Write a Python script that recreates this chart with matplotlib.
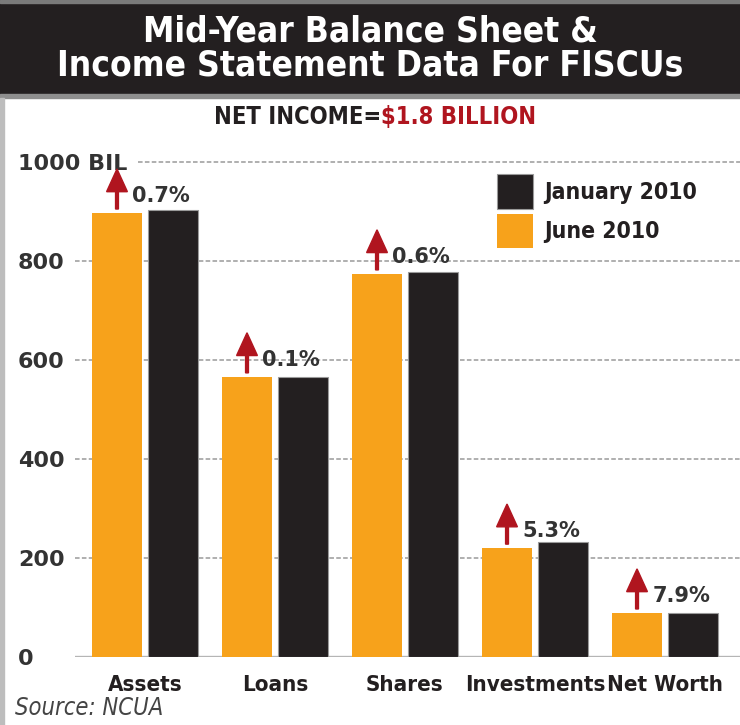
import matplotlib.pyplot as plt
import numpy as np
from matplotlib.patches import Rectangle

categories = ['Assets', 'Loans', 'Shares', 'Investments', 'Net Worth']
june_2010 = [897, 566, 774, 220, 89]
jan_2010 = [903, 566, 778, 232, 89]
pct_change = ['0.7%', '0.1%', '0.6%', '5.3%', '7.9%']
yticks = [0, 200, 400, 600, 800, 1000]
ytick_labels = ['0', '200', '400', '600', '800', '1000 BIL']

ORANGE = '#f7a21b'
BLACK = '#231f20'
RED = '#b0151f'
TEXT = '#231f20'
NARROW = dict(family='DejaVu Sans', stretch='condensed', weight='bold')

W, H = 740, 725
fig = plt.figure(figsize=(W / 100, H / 100), dpi=100)
fig.patch.set_facecolor('white')

# header band + frame
fig.patches.append(Rectangle((0, 1 - 95 / H), 1, 95 / H, transform=fig.transFigure,
                             color=BLACK, zorder=0))
fig.patches.append(Rectangle((0, 1 - 98 / H), 1, 4 / H, transform=fig.transFigure,
                             color='#8e8e8e', zorder=0))
fig.patches.append(Rectangle((0, 1 - 3 / H), 1, 3 / H, transform=fig.transFigure,
                             color='#7a7a7a', zorder=0))
fig.patches.append(Rectangle((0, 0), 4 / W, 1 - 98 / H, transform=fig.transFigure,
                             color='#bdbdbd', zorder=0))

fig.text(0.5, 1 - 31 / H, 'Mid-Year Balance Sheet &', color='white', fontsize=25.3,
         ha='center', va='center', **NARROW)
fig.text(0.5, 1 - 66 / H, 'Income Statement Data For FISCUs', color='white', fontsize=25.3,
         ha='center', va='center', **NARROW)
fig.text(381 / W, 1 - 117 / H, 'NET INCOME=', color=TEXT, fontsize=17,
         ha='right', va='center', **NARROW)
fig.text(381 / W, 1 - 117 / H, '$1.8 BILLION', color=RED, fontsize=17,
         ha='left', va='center', **NARROW)

ax = fig.add_axes([75 / W, 68 / H, 665 / W, 495 / H])
x = np.arange(len(categories))
bw = 0.39
ax.bar(x - 0.215, june_2010, bw, color=ORANGE, zorder=3, label='June 2010')
ax.bar(x + 0.215, jan_2010, bw, color=BLACK, edgecolor='#9a9a9a', linewidth=0.8,
       zorder=3, label='January 2010')

ax.set_xlim(-0.538, 4.577)
ax.set_ylim(0, 1000)

for v in yticks[1:-1]:
    ax.axhline(v, color='#9a9a9a', lw=1.1, ls=(0, (3, 1.5)), zorder=1)
ax.axhline(1000, xmin=0.095, color='#9a9a9a', lw=1.1, ls=(0, (3, 1.5)), zorder=1, clip_on=False)
ax.axhline(0, color='#b5b5b5', lw=2.4, zorder=2)

# change arrows and labels
for xi, v, p in zip(x - 0.215, june_2010, pct_change):
    ax.arrow(xi, v + 8, 0, 81, width=0.022, head_width=0.16, head_length=46,
             length_includes_head=True, color=RED, zorder=4, clip_on=False)
    ax.annotate(p, (xi, v), xytext=(11, 12), textcoords='offset points',
                fontsize=15, fontweight='bold', color='#333333', ha='left', va='center',
                family='DejaVu Sans', zorder=5, annotation_clip=False)

for s in ax.spines.values():
    s.set_visible(False)
ax.set_xticks(x, categories)
ax.set_yticks(yticks, ytick_labels)
ax.tick_params(length=0)
ax.tick_params(axis='x', pad=13)
ax.tick_params(axis='y', pad=41)
for lab in ax.get_xticklabels():
    lab.set_fontsize(16)
    lab.set_fontweight('bold')
    lab.set_family('DejaVu Sans')
    lab.set_stretch('condensed')
    lab.set_color(TEXT)
for lab in ax.get_yticklabels():
    lab.set_fontsize(16)
    lab.set_fontweight('bold')
    lab.set_family('DejaVu Sans')
    lab.set_color('#333333')
    lab.set_ha('left')

handles, labels = ax.get_legend_handles_labels()
leg = ax.legend(handles[::-1], labels[::-1], loc='upper left',
                bbox_to_anchor=(497 / W, 1 - 174 / H), bbox_transform=fig.transFigure,
                frameon=False, fontsize=16.5, handlelength=1.55, handleheight=1.95,
                handletextpad=0.5, labelspacing=0.22, borderpad=0, borderaxespad=0)
for t in leg.get_texts():
    t.set_fontweight('bold')
    t.set_family('DejaVu Sans')
    t.set_stretch('condensed')
    t.set_color(TEXT)

fig.text(15 / W, 1 - 708 / H, 'Source: NCUA', fontsize=17, style='italic', color='#444444',
         family='DejaVu Sans', stretch='condensed', ha='left', va='center')

fig.savefig('out.png', dpi=100)
